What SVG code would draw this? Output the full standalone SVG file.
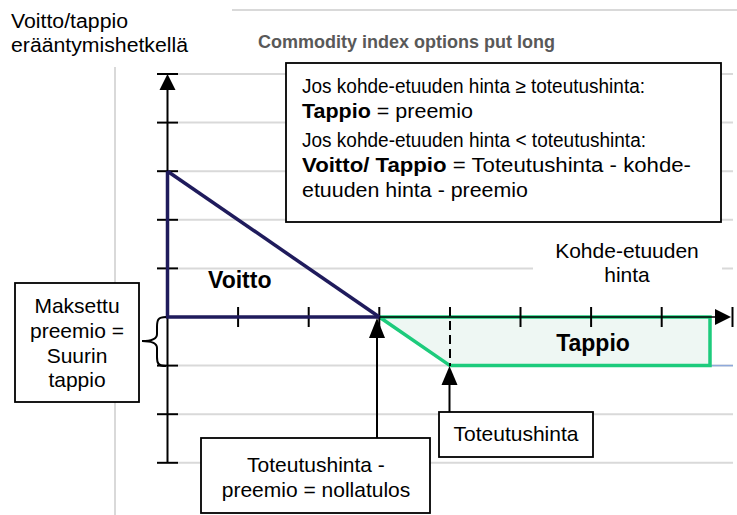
<svg xmlns="http://www.w3.org/2000/svg" width="737" height="515" viewBox="0 0 737 515">
<style>
.t{font-family:"Liberation Sans",Arial,sans-serif;fill:#000}
.b{font-weight:bold}
.grid{stroke:#D9D9D9;stroke-width:2;fill:none}
.box{fill:#fff;stroke:#000;stroke-width:1.8}
.ax{stroke:#000;stroke-width:2;fill:none}
.tick{stroke:#000;stroke-width:2}
.ah{fill:#000}
</style>
<rect width="737" height="515" fill="#fff"/>
<g id="frame">
<line class="grid" x1="232" y1="10" x2="737" y2="10"/>
<line class="grid" x1="115" y1="67" x2="115" y2="515"/>
</g>
<g id="gridlines">
<line class="grid" x1="178" y1="74" x2="733" y2="74"/>
<line class="grid" x1="178" y1="122.6" x2="733" y2="122.6"/>
<line class="grid" x1="178" y1="171.2" x2="733" y2="171.2"/>
<line class="grid" x1="178" y1="219.8" x2="733" y2="219.8"/>
<line class="grid" x1="178" y1="268.4" x2="733" y2="268.4"/>
<line class="grid" x1="178" y1="365.6" x2="733" y2="365.6"/>
<line class="grid" x1="178" y1="414.2" x2="733" y2="414.2"/>
<line class="grid" x1="178" y1="462.8" x2="733" y2="462.8"/>
<line x1="710" y1="365.6" x2="733" y2="365.6" stroke="#8EA9DB" stroke-width="1.5"/>
</g>
<text class="t" x="11" y="28" font-size="20" textLength="117" lengthAdjust="spacingAndGlyphs">Voitto/tappio</text>
<text class="t" x="11" y="52" font-size="20" textLength="177" lengthAdjust="spacingAndGlyphs">erääntymishetkellä</text>
<text class="t b" x="258" y="48" font-size="18" style="fill:#595959">Commodity index options put long</text>
<g id="y-axis">
<line class="ax" x1="167.5" y1="80" x2="167.5" y2="462.8"/>
<polygon class="ah" points="167.5,74 159.5,90 175.5,90"/>
<g class="tick">
<line x1="157" y1="74" x2="178" y2="74"/>
<line x1="157" y1="122.6" x2="178" y2="122.6"/>
<line x1="157" y1="171.2" x2="178" y2="171.2"/>
<line x1="157" y1="219.8" x2="178" y2="219.8"/>
<line x1="157" y1="268.4" x2="178" y2="268.4"/>
<line x1="157" y1="365.6" x2="178" y2="365.6"/>
<line x1="157" y1="414.2" x2="178" y2="414.2"/>
<line x1="157" y1="462.8" x2="178" y2="462.8"/>
</g>
</g>
<g id="loss-area">
<polygon points="379.3,317 450,365.6 710,365.6 710,317" fill="#EEF7F3" stroke="#1DCB7C" stroke-width="3.5" stroke-linejoin="miter"/>
<text class="t b" x="593" y="351" font-size="23" text-anchor="middle">Tappio</text>
</g>
<g id="x-axis">
<line x1="167.5" y1="317" x2="716" y2="317" stroke="#000" stroke-width="1.5"/>
<polygon class="ah" points="731,317 715,309 715,325"/>
<line class="tick" x1="732.5" y1="307" x2="732.5" y2="327"/>
<g class="tick">
<line x1="238.1" y1="307" x2="238.1" y2="327"/>
<line x1="308.7" y1="307" x2="308.7" y2="327"/>
<line x1="379.3" y1="307" x2="379.3" y2="327"/>
<line x1="520.5" y1="307" x2="520.5" y2="327"/>
<line x1="591.1" y1="307" x2="591.1" y2="327"/>
<line x1="661.7" y1="307" x2="661.7" y2="327"/>
</g>
<line x1="450" y1="307" x2="450" y2="366" stroke="#000" stroke-width="2" stroke-dasharray="9,5"/>
</g>
<g id="profit-line">
<polyline points="167.5,171.2 167.5,317 379.3,317" fill="none" stroke="#1F1B5C" stroke-width="3.5"/>
<line x1="167.5" y1="171.2" x2="379.3" y2="317" stroke="#1F1B5C" stroke-width="3.5"/>
<text class="t b" x="208" y="288" font-size="23">Voitto</text>
</g>
<g id="x-label">
<rect x="533" y="240" width="189" height="50" fill="#fff"/>
<text class="t" x="627" y="258" font-size="21" text-anchor="middle">Kohde-etuuden</text>
<text class="t" x="627" y="282" font-size="21" text-anchor="middle">hinta</text>
</g>
<g id="info-box">
<rect class="box" x="286" y="63" width="435" height="159"/>
<text class="t" x="302" y="93" font-size="20" textLength="343" lengthAdjust="spacingAndGlyphs">Jos kohde-etuuden hinta ≥ toteutushinta:</text>
<text class="t" x="302" y="118" font-size="20" textLength="171" lengthAdjust="spacingAndGlyphs"><tspan class="b">Tappio</tspan> = preemio</text>
<text class="t" x="302" y="147" font-size="20" textLength="344" lengthAdjust="spacingAndGlyphs">Jos kohde-etuuden hinta &lt; toteutushinta:</text>
<text class="t" x="302" y="172" font-size="20" textLength="389" lengthAdjust="spacingAndGlyphs"><tspan class="b">Voitto/ Tappio</tspan> = Toteutushinta - kohde-</text>
<text class="t" x="302" y="197" font-size="20" textLength="226" lengthAdjust="spacingAndGlyphs">etuuden hinta - preemio</text>
</g>
<g id="premium-box">
<rect class="box" x="15" y="283" width="124" height="119"/>
<text class="t" x="77" y="313" font-size="21" text-anchor="middle">Maksettu</text>
<text class="t" x="77" y="338" font-size="21" text-anchor="middle">preemio =</text>
<text class="t" x="77" y="363" font-size="21" text-anchor="middle">Suurin</text>
<text class="t" x="77" y="387" font-size="21" text-anchor="middle">tappio</text>
</g>
<g id="breakeven-box">
<rect class="box" x="201" y="438" width="229" height="75"/>
<text class="t" x="316" y="472" font-size="21" text-anchor="middle">Toteutushinta -</text>
<text class="t" x="316" y="497" font-size="21" text-anchor="middle">preemio = nollatulos</text>
</g>
<g id="strike-box">
<rect class="box" x="439" y="412" width="154" height="45"/>
<text class="t" x="516" y="441" font-size="21" text-anchor="middle">Toteutushinta</text>
</g>
<g id="connectors">
<path d="M166,317 C158,317 157,320 157,327 L157,334 C157,339 152,341 142,341 C152,341 157,343 157,348 L157,357 C157,363 158,366 166,366" fill="none" stroke="#000" stroke-width="2"/>
<line x1="377" y1="438" x2="377" y2="335" stroke="#000" stroke-width="2"/>
<polygon class="ah" points="377,318 369,338 385,338"/>
<line x1="449.5" y1="412" x2="449.5" y2="383" stroke="#000" stroke-width="2"/>
<polygon class="ah" points="449.5,366 441.5,385 457.5,385"/>
</g>
</svg>
